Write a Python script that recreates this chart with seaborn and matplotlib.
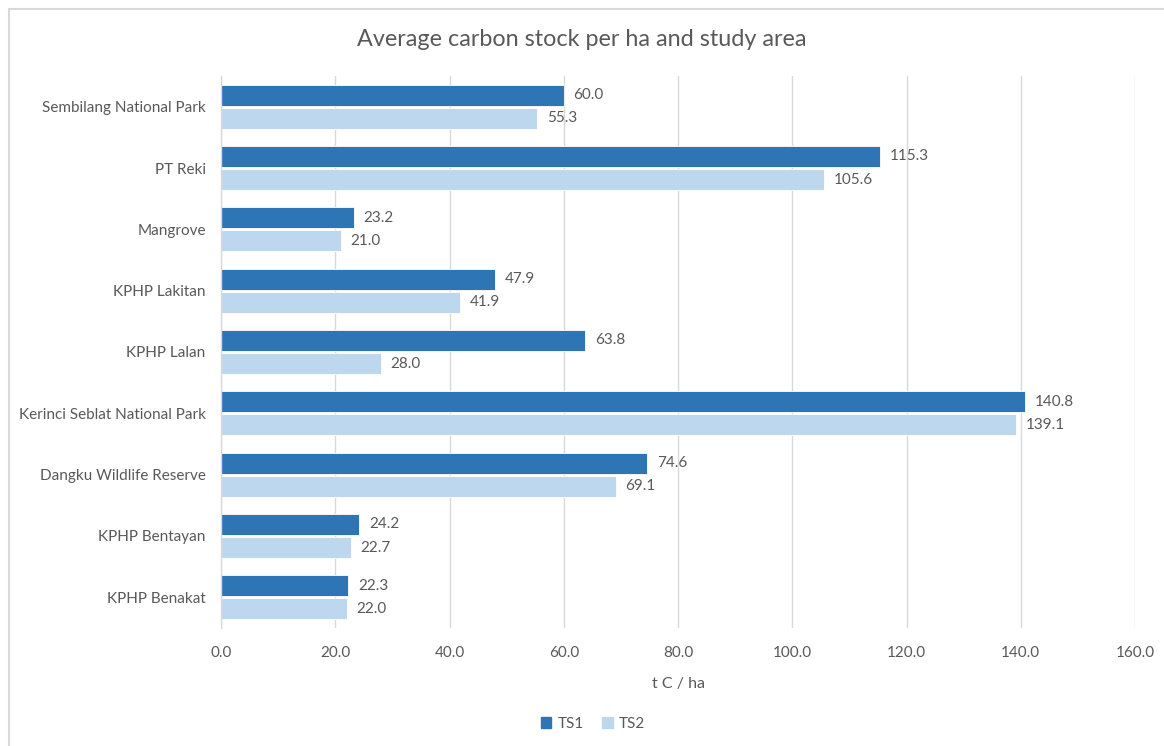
import matplotlib
matplotlib.use("Agg")
import matplotlib.pyplot as plt
import seaborn as sns
import pandas as pd
from matplotlib.patches import Rectangle
from matplotlib.lines import Line2D

areas = [
    "Sembilang National Park",
    "PT Reki",
    "Mangrove",
    "KPHP Lakitan",
    "KPHP Lalan",
    "Kerinci Seblat National Park",
    "Dangku Wildlife Reserve",
    "KPHP Bentayan",
    "KPHP Benakat",
]
ts1 = [60.0, 115.3, 23.2, 47.9, 63.8, 140.8, 74.6, 24.2, 22.3]
ts2 = [55.3, 105.6, 21.0, 41.9, 28.0, 139.1, 69.1, 22.7, 22.0]
series = ["TS1", "TS2"]
x_ticks = [0, 20, 40, 60, 80, 100, 120, 140, 160]

df = pd.DataFrame({
    "area": areas * 2,
    "value": ts1 + ts2,
    "series": [series[0]] * len(areas) + [series[1]] * len(areas),
})

sns.set_theme(style="white")
plt.rcParams["font.family"] = ["Lato", "DejaVu Sans"]
text_color = "#595959"
grid_color = "#D9D9D9"
colors = {"TS1": "#2E75B6", "TS2": "#BDD7EE"}

fig = plt.figure(figsize=(11.64, 7.46), dpi=100)
ax = fig.add_axes([221 / 1164, 1 - 628 / 746, (1135 - 221) / 1164, (628 - 76) / 746])

sns.barplot(
    data=df, y="area", x="value", hue="series", orient="h",
    palette=colors, saturation=1,
    width=0.76, gap=0.1, ax=ax, legend=False, errorbar=None,
    edgecolor="white", linewidth=0.6,
)

for container in ax.containers:
    ax.bar_label(container, fmt="%.1f", padding=7, fontsize=11, color=text_color)

ax.set_xlim(0, 160)
ax.set_xticks(x_ticks)
ax.set_xticklabels([f"{t:.1f}" for t in x_ticks], fontsize=11, color=text_color)
ax.tick_params(axis="x", length=0, pad=13)
ax.tick_params(axis="y", length=0, pad=11, labelsize=11, labelcolor=text_color)
ax.set_ylabel("")
ax.set_xlabel("t C / ha", fontsize=11.5, color=text_color, labelpad=12)
ax.grid(axis="x", color=grid_color, linewidth=1)
ax.set_axisbelow(True)
for side in ["top", "right", "bottom"]:
    ax.spines[side].set_visible(False)
ax.spines["left"].set_color(grid_color)
ax.spines["left"].set_linewidth(1)

fig.text(0.5, 1 - 40 / 746, "Average carbon stock per ha and study area",
         ha="center", va="center", fontsize=16.8, color=text_color)

# legend below the plot
handles = [Rectangle((0, 0), 1, 1, color=colors[s]) for s in series]
fig.legend(handles, series, loc="center", bbox_to_anchor=(593 / 1164, 1 - 724 / 746),
           ncol=2, frameon=False, fontsize=11, labelcolor=text_color,
           handlelength=0.7, handleheight=0.7, handletextpad=0.4, columnspacing=1.2)

# chart area border (top and left edges)
top_y = 1 - 8.5 / 746
left_x = 8.5 / 1164
fig.add_artist(Line2D([left_x, 1], [top_y, top_y], transform=fig.transFigure,
                      color=grid_color, linewidth=1.5))
fig.add_artist(Line2D([left_x, left_x], [0, top_y], transform=fig.transFigure,
                      color=grid_color, linewidth=1.5))

fig.savefig("out.png", dpi=100)
